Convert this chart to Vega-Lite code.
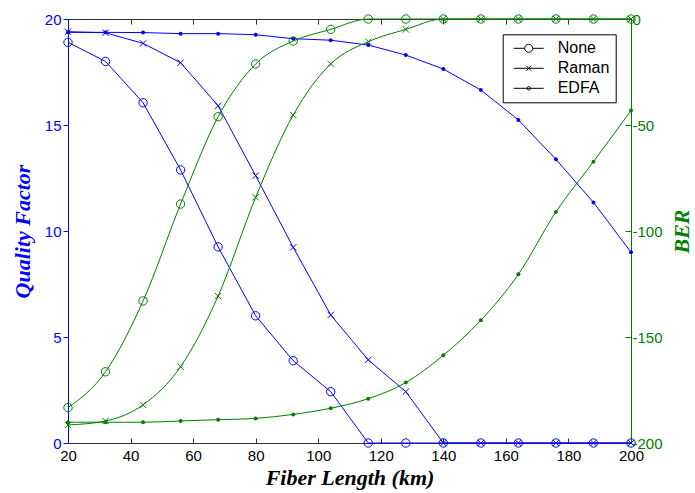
{
  "$schema": "https://vega.github.io/schema/vega-lite/v6.json",
  "width": 563,
  "height": 424,
  "autosize": {"type": "none"},
  "padding": {"left": 68, "top": 19, "right": 64, "bottom": 50},
  "background": "white",
  "config": {
    "view": {"stroke": "#333333", "strokeWidth": 1},
    "axis": {
      "grid": false,
      "labelFont": "Liberation Sans",
      "labelFontSize": 15,
      "labelFontWeight": "normal",
      "labelFlush": false,
      "labelOverlap": false,
      "titleFont": "Liberation Serif",
      "titleFontSize": 22,
      "titleFontStyle": "italic",
      "titleFontWeight": "bold"
    }
  },
  "datasets": {
    "d": [
      {"x": 20, "type": "None", "Q": 18.9, "BER": -183.3},
      {"x": 32, "type": "None", "Q": 18.0, "BER": -166.4},
      {"x": 44, "type": "None", "Q": 16.05, "BER": -133.0},
      {"x": 56, "type": "None", "Q": 12.88, "BER": -87.3},
      {"x": 68, "type": "None", "Q": 9.25, "BER": -46.1},
      {"x": 80, "type": "None", "Q": 6.0, "BER": -21.2},
      {"x": 92, "type": "None", "Q": 3.88, "BER": -10.4},
      {"x": 104, "type": "None", "Q": 2.42, "BER": -4.9},
      {"x": 116, "type": "None", "Q": 0, "BER": 0},
      {"x": 128, "type": "None", "Q": 0, "BER": 0},
      {"x": 140, "type": "None", "Q": 0, "BER": 0},
      {"x": 152, "type": "None", "Q": 0, "BER": 0},
      {"x": 164, "type": "None", "Q": 0, "BER": 0},
      {"x": 176, "type": "None", "Q": 0, "BER": 0},
      {"x": 188, "type": "None", "Q": 0, "BER": 0},
      {"x": 200, "type": "None", "Q": 0, "BER": 0},
      {"x": 20, "type": "Raman", "Q": 19.4, "BER": -191.5},
      {"x": 32, "type": "Raman", "Q": 19.35, "BER": -189.6},
      {"x": 44, "type": "Raman", "Q": 18.85, "BER": -182.0},
      {"x": 56, "type": "Raman", "Q": 17.94, "BER": -164.0},
      {"x": 68, "type": "Raman", "Q": 15.91, "BER": -130.7},
      {"x": 80, "type": "Raman", "Q": 12.61, "BER": -84.1},
      {"x": 92, "type": "Raman", "Q": 9.23, "BER": -45.3},
      {"x": 104, "type": "Raman", "Q": 6.04, "BER": -21.2},
      {"x": 116, "type": "Raman", "Q": 3.92, "BER": -10.7},
      {"x": 128, "type": "Raman", "Q": 2.42, "BER": -4.9},
      {"x": 140, "type": "Raman", "Q": 0, "BER": 0},
      {"x": 152, "type": "Raman", "Q": 0, "BER": 0},
      {"x": 164, "type": "Raman", "Q": 0, "BER": 0},
      {"x": 176, "type": "Raman", "Q": 0, "BER": 0},
      {"x": 188, "type": "Raman", "Q": 0, "BER": 0},
      {"x": 200, "type": "Raman", "Q": 0, "BER": 0},
      {"x": 20, "type": "EDFA", "Q": 19.37, "BER": -190.2},
      {"x": 32, "type": "EDFA", "Q": 19.37, "BER": -190.2},
      {"x": 44, "type": "EDFA", "Q": 19.36, "BER": -190.2},
      {"x": 56, "type": "EDFA", "Q": 19.31, "BER": -189.6},
      {"x": 68, "type": "EDFA", "Q": 19.31, "BER": -189.0},
      {"x": 80, "type": "EDFA", "Q": 19.26, "BER": -188.4},
      {"x": 92, "type": "EDFA", "Q": 19.07, "BER": -186.5},
      {"x": 104, "type": "EDFA", "Q": 19.0, "BER": -183.6},
      {"x": 116, "type": "EDFA", "Q": 18.77, "BER": -179.1},
      {"x": 128, "type": "EDFA", "Q": 18.3, "BER": -171.5},
      {"x": 140, "type": "EDFA", "Q": 17.64, "BER": -158.6},
      {"x": 152, "type": "EDFA", "Q": 16.65, "BER": -142.1},
      {"x": 164, "type": "EDFA", "Q": 15.24, "BER": -120.4},
      {"x": 176, "type": "EDFA", "Q": 13.38, "BER": -91.0},
      {"x": 188, "type": "EDFA", "Q": 11.35, "BER": -67.3},
      {"x": 200, "type": "EDFA", "Q": 9.0, "BER": -43.2}
    ]
  },
  "data": {"name": "d"},
  "layer": [
    {
      "encoding": {
        "x": {
          "field": "x", "type": "quantitative",
          "scale": {"domain": [20, 200], "nice": false, "zero": false},
          "axis": {
            "orient": "bottom",
            "values": [20, 40, 60, 80, 100, 120, 140, 160, 180, 200],
            "title": "Fiber Length (km)",
            "titleColor": "black",
            "titlePadding": 4,
            "domainColor": "#333333",
            "tickColor": "#333333",
            "tickSize": -5,
            "labelPadding": 10,
            "labelColor": "black"
          }
        },
        "y": {
          "field": "Q", "type": "quantitative",
          "scale": {"domain": [0, 20], "nice": false, "zero": false},
          "axis": {
            "orient": "left",
            "values": [0, 5, 10, 15, 20],
            "title": "Quality Factor",
            "titleColor": "#0000ff",
            "titlePadding": 10,
            "domainColor": "#0000ff",
            "tickColor": "#0000ff",
            "tickSize": 5,
            "labelPadding": 2,
            "labelColor": "#0000ff"
          }
        }
      },
      "layer": [
        {"mark": {"type": "line", "color": "#0000ff", "strokeWidth": 1}, "encoding": {"detail": {"field": "type", "type": "nominal"}}},
        {"transform": [{"filter": "datum.type === 'None'"}], "mark": {"type": "point", "shape": "circle", "filled": false, "color": "#0000ff", "size": 70, "strokeWidth": 1, "opacity": 1}},
        {"transform": [{"filter": "datum.type === 'Raman'"}], "mark": {"type": "point", "shape": "M-1,-1L1,1M-1,1L1,-1", "filled": false, "color": "#0000ff", "size": 40, "strokeWidth": 1, "opacity": 1}},
        {"transform": [{"filter": "datum.type === 'EDFA'"}], "mark": {"type": "point", "shape": "circle", "filled": true, "color": "#0000ff", "size": 16, "opacity": 1}},
        {
          "mark": {"type": "point", "opacity": 0, "color": "black", "filled": false, "size": 100},
          "encoding": {
            "shape": {
              "field": "type", "type": "nominal",
              "scale": {
                "domain": ["None", "Raman", "EDFA"],
                "range": [
                  "M-3,0H-0.8M0.8,0H3M0.8,0A0.8,0.8 0 1,1 -0.8,0A0.8,0.8 0 1,1 0.8,0",
                  "M-3,0H3M-0.5,-0.5L0.5,0.5M-0.5,0.5L0.5,-0.5",
                  "M-3,0H3M0.35,0A0.35,0.35 0 1,1 -0.35,0A0.35,0.35 0 1,1 0.35,0"
                ]
              },
              "legend": {
                "title": null,
                "orient": "none",
                "legendX": 434.7,
                "legendY": 15.3,
                "padding": 6,
                "strokeColor": "black",
                "fillColor": "white",
                "cornerRadius": 0,
                "symbolOffset": 12,
                "labelOffset": 21,
                "rowPadding": 4,
                "labelFont": "Liberation Sans",
                "labelFontSize": 16,
                "labelColor": "black",
                "symbolSize": 100,
                "symbolStrokeColor": "black",
                "symbolStrokeWidth": 1,
                "symbolOpacity": 1,
                "symbolFillColor": "transparent",
                "encode": {"symbols": {"update": {"fill": {"signal": "datum.value === 'EDFA' ? 'black' : 'transparent'"}, "opacity": {"value": 1}}}}
              }
            }
          }
        }
      ]
    },
    {
      "encoding": {
        "x": {
          "field": "x", "type": "quantitative",
          "scale": {"domain": [20, 200], "nice": false, "zero": false},
          "axis": {
            "orient": "top",
            "values": [40, 60, 80, 100, 120, 140, 160, 180],
            "labels": false,
            "title": null,
            "domain": false,
            "tickColor": "#333333",
            "tickSize": -5
          }
        },
        "y": {
          "field": "BER", "type": "quantitative",
          "scale": {"domain": [-200, 0], "nice": false, "zero": false},
          "axis": {
            "orient": "right",
            "values": [-200, -150, -100, -50, 0],
            "labelExpr": "'' + datum.value",
            "title": "BER",
            "titleAngle": -90,
            "titleBaseline": "top",
            "titleColor": "#008000",
            "titlePadding": 9,
            "domainColor": "#008000",
            "tickColor": "#008000",
            "tickSize": -6,
            "labelPadding": 7,
            "labelColor": "#008000"
          }
        }
      },
      "layer": [
        {"mark": {"type": "line", "color": "#008000", "strokeWidth": 1, "interpolate": "monotone"}, "encoding": {"detail": {"field": "type", "type": "nominal"}}},
        {"transform": [{"filter": "datum.type === 'None'"}], "mark": {"type": "point", "shape": "circle", "filled": false, "color": "#008000", "size": 70, "strokeWidth": 1, "opacity": 1}},
        {"transform": [{"filter": "datum.type === 'Raman'"}], "mark": {"type": "point", "shape": "M-1,-1L1,1M-1,1L1,-1", "filled": false, "color": "#008000", "size": 40, "strokeWidth": 1, "opacity": 1}},
        {"transform": [{"filter": "datum.type === 'EDFA'"}], "mark": {"type": "point", "shape": "circle", "filled": true, "color": "#008000", "size": 16, "opacity": 1}}
      ]
    }
  ],
  "resolve": {"scale": {"y": "independent"}, "axis": {"x": "independent"}}
}
